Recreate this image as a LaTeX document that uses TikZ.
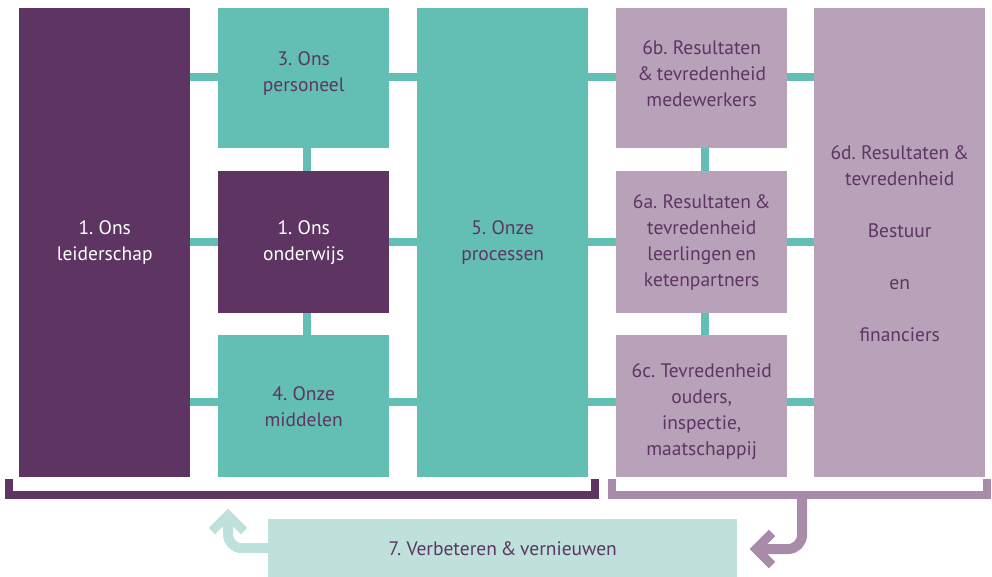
\documentclass[tikz,border=0pt]{standalone}
\usepackage{fontspec}
\setmainfont{PT Sans}[WordSpace=0.7]
\usetikzlibrary{calc}
\definecolor{dpurp}{HTML}{5E3562}
\definecolor{tealc}{HTML}{63BEB4}
\definecolor{lpurp}{HTML}{B7A2B9}
\definecolor{ltealc}{HTML}{BEE1DB}
\definecolor{mpurp}{HTML}{A88BA8}
\begin{document}
\begin{tikzpicture}[x=1pt,y=-1pt,
  box/.style={rectangle, inner sep=0pt, anchor=north west, minimum width=171pt},
  darkbox/.style={box, fill=dpurp},
  tealbox/.style={box, fill=tealc},
  lightbox/.style={box, fill=lpurp},
  txt/.style={inner sep=0pt, align=center, text=dpurp, font=\fontsize{19.5}{26}\selectfont},
  wtxt/.style={txt, text=white},
  conn/.style={draw=tealc, line width=8pt},
  bracket/.style={line width=8pt, miter limit=10},
  arr/.style={line width=10pt, rounded corners=14pt},
  head/.style={line width=9pt, miter limit=10}
]
\useasboundingbox (0,0) rectangle (992,576);
% boxes
\node[darkbox, minimum height=469pt] (lead) at (19,8) {};
\node[tealbox, minimum height=140pt] (pers) at (218,8) {};
\node[darkbox, minimum height=142pt] (ond) at (218,171) {};
\node[tealbox, minimum height=142pt] (mid) at (218,335) {};
\node[tealbox, minimum height=469pt] (proc) at (417,8) {};
\node[lightbox, minimum height=140pt] (r6b) at (616,8) {};
\node[lightbox, minimum height=142pt] (r6a) at (616,171) {};
\node[lightbox, minimum height=142pt] (r6c) at (616,335) {};
\node[lightbox, minimum height=469pt] (r6d) at (814,8) {};
\node[box, fill=ltealc, minimum width=469pt, minimum height=60pt] (verb) at (268,519) {};
% texts
\node[wtxt] (tlead) at (lead.center) {1. Ons\\leiderschap};
\node[txt] (tpers) at ($(pers.center)+(0,-5)$) {3. Ons\\personeel};
\node[wtxt] (tond) at (ond.center) {1. Ons\\onderwijs};
\node[txt] (tmid) at (mid.center) {4. Onze\\middelen};
\node[txt] (tproc) at (proc.center) {5. Onze\\processen};
\node[txt] (t6b) at ($(r6b.center)+(0,-5)$) {6b. Resultaten\\\& tevredenheid\\medewerkers};
\node[txt] (t6a) at (r6a.center) {6a. Resultaten \&\\tevredenheid\\leerlingen en\\ketenpartners};
\node[txt] (t6c) at ($(r6c.center)+(0,5)$) {6c. Tevredenheid\\ouders,\\inspectie,\\maatschappij};
\node[txt] (t6d) at ($(r6d.center)+(0,1)$) {6d. Resultaten \&\\tevredenheid\\[26pt]Bestuur\\[26pt]en\\[26pt]financiers};
\node[txt] (tverb) at ($(verb.center)+(0,-1)$) {7. Verbeteren \& vernieuwen};
% horizontal connectors
\draw[conn] ($(pers.west -| lead.east)+(0,-1)$) -- ($(pers.west)+(0,-1)$);
\draw[conn] (ond.west -| lead.east) -- (ond.west);
\draw[conn] ($(mid.west -| lead.east)+(0,-4)$) -- ($(mid.west)+(0,-4)$);
\draw[conn] ($(pers.east)+(0,-1)$) -- ($(pers.east -| proc.west)+(0,-1)$);
\draw[conn] (ond.east) -- (ond.east -| proc.west);
\draw[conn] ($(mid.east)+(0,-4)$) -- ($(mid.east -| proc.west)+(0,-4)$);
\draw[conn] ($(r6b.west -| proc.east)+(0,-1)$) -- ($(r6b.west)+(0,-1)$);
\draw[conn] (r6a.west -| proc.east) -- (r6a.west);
\draw[conn] ($(r6c.west -| proc.east)+(0,-4)$) -- ($(r6c.west)+(0,-4)$);
\draw[conn] ($(r6b.east)+(0,-1)$) -- ($(r6b.east -| r6d.west)+(0,-1)$);
\draw[conn] (r6a.east) -- (r6a.east -| r6d.west);
\draw[conn] ($(r6c.east)+(0,-4)$) -- ($(r6c.east -| r6d.west)+(0,-4)$);
% vertical connectors
\draw[conn] ($(pers.south)+(3.5,0)$) -- ($(ond.north)+(3.5,0)$);
\draw[conn] ($(ond.south)+(3.5,0)$) -- ($(mid.north)+(3.5,0)$);
\draw[conn] ($(r6b.south)+(3.5,0)$) -- ($(r6a.north)+(3.5,0)$);
\draw[conn] ($(r6a.south)+(3.5,0)$) -- ($(r6c.north)+(3.5,0)$);
% brackets
\coordinate (lb1) at (9,479);
\coordinate (lb2) at (595,479);
\coordinate (rb1) at (612,479);
\coordinate (rb2) at (987,479);
\draw[bracket, draw=dpurp] (lb1) -- (lb1 |- 0,495) -- (lb2 |- 0,495) -- (lb2);
\draw[bracket, draw=mpurp] (rb1) -- (rb1 |- 0,495) -- (rb2 |- 0,495) -- (rb2);
% right arrow
\coordinate (ra0) at (802,495);
\coordinate (ratip) at (756,549);
\draw[arr, draw=mpurp] (ra0) -- (ra0 |- ratip) -- (ratip);
\draw[head, draw=mpurp] ($(ratip)+(16,-16)$) -- (ratip) -- ($(ratip)+(16,16)$);
% left arrow
\coordinate (latip) at (228,515);
\draw[arr, draw=ltealc] ($(verb.west)+(0,-1)$) -- ($(latip |- verb.west)+(0,-1)$) -- (latip);
\draw[head, draw=ltealc] ($(latip)+(-16,16)$) -- (latip) -- ($(latip)+(16,16)$);
\end{tikzpicture}
\end{document}
